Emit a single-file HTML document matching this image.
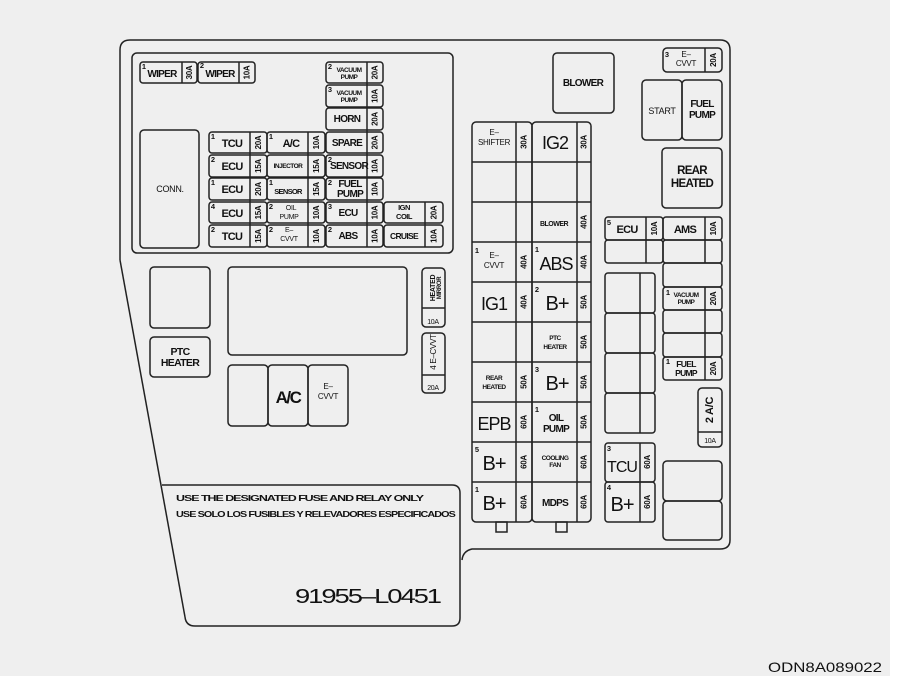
<!DOCTYPE html>
<html><head><meta charset="utf-8"><style>
html,body{margin:0;padding:0;background:#fff}
svg{display:block}
text{font-family:"Liberation Sans",sans-serif;fill:#111}
.b{font-weight:bold;font-size:10px;letter-spacing:-0.7px}
.s{font-weight:bold;font-size:6.5px;letter-spacing:-0.5px}
.r{font-size:8px;letter-spacing:-0.3px}
.n{font-weight:bold;font-size:7.5px}
.L{font-size:18px;letter-spacing:-1px}
</style></head><body>
<svg width="902" height="688" viewBox="0 0 902 688" xmlns="http://www.w3.org/2000/svg">
<rect x="0" y="0" width="890" height="676" fill="#efefef"/>
<g fill="none" stroke="#222" stroke-width="1.5">
<path d="M120,260 L120,50 Q120,40 130,40 L720,40 Q730,40 730,50 L730,540 Q730,549 720,549 L472,549 Q463,551 462,560"/>
<path d="M120,260 L185,617"/>
<path d="M162,485 L452,485 Q460,485 460,493 L460,618 Q460,626 452,626 L195,626 Q186,626 185,617"/>
<rect x="132" y="53" width="321" height="200" rx="5"/>
<rect x="140" y="130" width="59" height="118" rx="4"/>
<rect x="150" y="267" width="60" height="61" rx="4"/>
<rect x="150" y="337" width="60" height="40" rx="4"/>
<rect x="228" y="267" width="179" height="88" rx="4"/>
<rect x="228" y="365" width="40" height="61" rx="4"/>
<rect x="268" y="365" width="40" height="61" rx="4"/>
<rect x="308" y="365" width="40" height="61" rx="4"/>
<rect x="422" y="268" width="23" height="59" rx="4"/><line x1="422" y1="308" x2="445" y2="308"/>
<rect x="422" y="333" width="23" height="60" rx="4"/><line x1="422" y1="375" x2="445" y2="375"/>
<rect x="140" y="62" width="57" height="21" rx="3"/><line x1="182" y1="62" x2="182" y2="83"/>
<rect x="198" y="62" width="57" height="21" rx="3"/><line x1="239" y1="62" x2="239" y2="83"/>
<rect x="326" y="62" width="57" height="21" rx="3"/>
<rect x="326" y="85" width="57" height="22" rx="3"/>
<rect x="326" y="108" width="57" height="22" rx="3"/>
<rect x="326" y="132" width="57" height="21" rx="3"/>
<rect x="326" y="155" width="57" height="22" rx="3"/>
<rect x="326" y="178" width="57" height="22" rx="3"/>
<rect x="326" y="202" width="57" height="21" rx="3"/>
<rect x="326" y="225" width="57" height="22" rx="3"/>
<line x1="367" y1="62" x2="367" y2="247"/>
<rect x="209" y="132" width="58" height="21" rx="3"/>
<rect x="209" y="155" width="58" height="22" rx="3"/>
<rect x="209" y="178" width="58" height="22" rx="3"/>
<rect x="209" y="202" width="58" height="21" rx="3"/>
<rect x="209" y="225" width="58" height="22" rx="3"/>
<line x1="250" y1="132" x2="250" y2="247"/>
<rect x="267" y="132" width="58" height="21" rx="3"/>
<rect x="267" y="155" width="58" height="22" rx="3"/>
<rect x="267" y="178" width="58" height="22" rx="3"/>
<rect x="267" y="202" width="58" height="21" rx="3"/>
<rect x="267" y="225" width="58" height="22" rx="3"/>
<line x1="308" y1="132" x2="308" y2="247"/>
<rect x="384" y="202" width="59" height="21" rx="3"/>
<rect x="384" y="225" width="59" height="22" rx="3"/>
<line x1="425" y1="202" x2="425" y2="247"/>
<rect x="472" y="122" width="60" height="400" rx="4"/>
<rect x="532" y="122" width="59" height="400" rx="4"/>
<line x1="516" y1="122" x2="516" y2="522"/>
<line x1="577" y1="122" x2="577" y2="522"/>
<path d="M472,162H591M472,202H591M472,242H591M472,282H591M472,322H591M472,362H591M472,402H591M472,442H591M472,482H591"/>
<rect x="496" y="522" width="11" height="10"/>
<rect x="556" y="522" width="11" height="10"/>
<rect x="553" y="53" width="61" height="60" rx="4"/>
<rect x="663" y="48" width="59" height="24" rx="4"/><line x1="705" y1="48" x2="705" y2="72"/>
<rect x="642" y="80" width="40" height="60" rx="4"/>
<rect x="682" y="80" width="40" height="60" rx="4"/>
<rect x="662" y="148" width="60" height="60" rx="4"/>
<rect x="605" y="217" width="58" height="23" rx="3"/>
<rect x="605" y="240" width="58" height="23" rx="3"/>
<line x1="646" y1="217" x2="646" y2="263"/>
<rect x="663" y="217" width="59" height="23" rx="3"/>
<rect x="663" y="240" width="59" height="23" rx="3"/>
<rect x="663" y="263" width="59" height="24" rx="3"/>
<rect x="663" y="287" width="59" height="23" rx="3"/>
<rect x="663" y="310" width="59" height="23" rx="3"/>
<rect x="663" y="333" width="59" height="24" rx="3"/>
<rect x="663" y="357" width="59" height="23" rx="3"/>
<path d="M705,217V263M705,287V380"/>
<rect x="605" y="273" width="50" height="40" rx="3"/>
<rect x="605" y="313" width="50" height="40" rx="3"/>
<rect x="605" y="353" width="50" height="40" rx="3"/>
<rect x="605" y="393" width="50" height="40" rx="3"/>
<line x1="640" y1="273" x2="640" y2="433"/>
<rect x="698" y="388" width="24" height="59" rx="4"/><line x1="698" y1="432" x2="722" y2="432"/>
<rect x="605" y="443" width="50" height="39" rx="3"/>
<rect x="605" y="482" width="50" height="40" rx="3"/>
<line x1="640" y1="443" x2="640" y2="522"/>
<rect x="663" y="461" width="59" height="40" rx="4"/>
<rect x="663" y="501" width="59" height="39" rx="4"/>
</g>

<g text-anchor="middle">
<text class="b" x="162" y="77">WIPER</text><text class="n" x="144" y="69">1</text>
<text class="b" x="220" y="77">WIPER</text><text class="n" x="202" y="68">2</text>
<text class="r" x="170" y="192" style="font-size:9px">CONN.</text>

<text class="s" x="349" y="72">VACUUM</text><text class="s" x="349" y="79">PUMP</text><text class="n" x="330" y="69">2</text>
<text class="s" x="349" y="95">VACUUM</text><text class="s" x="349" y="102">PUMP</text><text class="n" x="330" y="92">3</text>
<text class="b" x="347" y="122">HORN</text>
<text class="b" x="347" y="146">SPARE</text>
<text class="b" x="349" y="169">SENSOR</text><text class="n" x="330" y="162">2</text>
<text class="b" x="350" y="187">FUEL</text><text class="b" x="350" y="197">PUMP</text><text class="n" x="330" y="185">2</text>
<text class="b" x="348" y="216">ECU</text><text class="n" x="330" y="209">3</text>
<text class="b" x="348" y="239">ABS</text><text class="n" x="330" y="232">2</text>

<text class="b" x="232" y="147" style="font-size:11px">TCU</text><text class="n" x="213" y="139">1</text>
<text class="b" x="232" y="170" style="font-size:11px">ECU</text><text class="n" x="213" y="162">2</text>
<text class="b" x="232" y="193" style="font-size:11px">ECU</text><text class="n" x="213" y="185">1</text>
<text class="b" x="232" y="217" style="font-size:11px">ECU</text><text class="n" x="213" y="209">4</text>
<text class="b" x="232" y="240" style="font-size:11px">TCU</text><text class="n" x="213" y="232">2</text>

<text class="b" x="291" y="147" style="font-size:11px">A/C</text><text class="n" x="271" y="139">1</text>
<text class="s" x="288" y="168">INJECTOR</text>
<text class="b" x="288" y="194" style="font-size:7.5px">SENSOR</text><text class="n" x="271" y="185">1</text>
<text class="r" x="291" y="210" style="font-size:7px">OIL</text><text class="r" x="289" y="219" style="font-size:7px">PUMP</text><text class="n" x="271" y="209">2</text>
<text class="r" x="289" y="232" style="font-size:7px">E–</text><text class="r" x="289" y="241" style="font-size:7px">CVVT</text><text class="n" x="271" y="232">2</text>

<text class="s" x="404" y="210" style="font-size:7.5px">IGN</text><text class="s" x="404" y="219" style="font-size:7.5px">COIL</text>
<text class="b" x="404" y="239" style="font-size:8.5px">CRUISE</text>

<text class="b" x="180" y="355" style="font-size:10.5px">PTC</text><text class="b" x="180" y="366" style="font-size:10.5px">HEATER</text>
<text x="288" y="403" style="font-size:17px;font-weight:bold;letter-spacing:-1.5px">A/C</text>
<text class="r" x="328" y="389">E–</text><text class="r" x="328" y="399">CVVT</text>
<text class="r" x="433" y="324" style="font-size:7px">10A</text>
<text class="r" x="433" y="390" style="font-size:7px">20A</text>

<text class="r" x="494" y="135">E–</text><text class="r" x="494" y="145">SHIFTER</text>
<text class="L" x="555" y="149">IG2</text>
<text class="s" x="554" y="226" style="font-size:7px">BLOWER</text>
<text class="r" x="494" y="258">E–</text><text class="r" x="494" y="268">CVVT</text><text class="n" x="477" y="253">1</text>
<text class="L" x="556" y="270">ABS</text><text class="n" x="537" y="252">1</text>
<text class="L" x="494" y="310">IG1</text>
<text class="L" x="557" y="310" style="font-size:20px">B+</text><text class="n" x="537" y="292">2</text>
<text class="s" x="555" y="340">PTC</text><text class="s" x="555" y="349">HEATER</text>
<text class="s" x="494" y="380">REAR</text><text class="s" x="494" y="389">HEATED</text>
<text class="L" x="557" y="390" style="font-size:20px">B+</text><text class="n" x="537" y="372">3</text>
<text class="L" x="494" y="430">EPB</text>
<text class="b" x="556" y="421">OIL</text><text class="b" x="556" y="432">PUMP</text><text class="n" x="537" y="412">1</text>
<text class="L" x="494" y="470" style="font-size:20px">B+</text><text class="n" x="477" y="452">5</text>
<text class="s" x="555" y="460">COOLING</text><text class="s" x="555" y="467">FAN</text>
<text class="L" x="494" y="510" style="font-size:20px">B+</text><text class="n" x="477" y="492">1</text>
<text class="b" x="555" y="506">MDPS</text>

<text class="b" x="583" y="86">BLOWER</text>
<text class="r" x="686" y="57">E–</text><text class="r" x="686" y="66">CVVT</text><text class="n" x="667" y="57">3</text>
<text class="r" x="662" y="114" style="font-size:9px">START</text>
<text class="b" x="702" y="107">FUEL</text><text class="b" x="702" y="118">PUMP</text>
<text class="b" x="692" y="174" style="font-size:11.5px">REAR</text><text class="b" x="692" y="187" style="font-size:11.5px">HEATED</text>
<text class="b" x="627" y="233" style="font-size:11px">ECU</text><text class="n" x="609" y="225">5</text>
<text class="b" x="685" y="233" style="font-size:11px">AMS</text>
<text class="s" x="686" y="297">VACUUM</text><text class="s" x="686" y="304">PUMP</text><text class="n" x="668" y="295">1</text>
<text class="b" x="686" y="367" style="font-size:8.5px">FUEL</text><text class="b" x="686" y="376" style="font-size:8.5px">PUMP</text><text class="n" x="668" y="364">1</text>
<text class="r" x="710" y="443" style="font-size:7px">10A</text>
<text style="font-size:16px;letter-spacing:-1px" x="622" y="472">TCU</text><text class="n" x="609" y="451">3</text>
<text class="L" x="622" y="511" style="font-size:20px">B+</text><text class="n" x="609" y="490">4</text>
</g>

<g class="r" text-anchor="middle" dominant-baseline="central" style="font-size:8px;font-weight:bold">
<text transform="translate(189.5,72.5) rotate(-90)">30A</text>
<text transform="translate(247,72.5) rotate(-90)">10A</text>
<text transform="translate(375,72.5) rotate(-90)">20A</text>
<text transform="translate(375,96) rotate(-90)">10A</text>
<text transform="translate(375,119) rotate(-90)">20A</text>
<text transform="translate(375,142.5) rotate(-90)">20A</text>
<text transform="translate(375,166) rotate(-90)">10A</text>
<text transform="translate(375,189) rotate(-90)">10A</text>
<text transform="translate(375,212.5) rotate(-90)">10A</text>
<text transform="translate(375,236) rotate(-90)">10A</text>
<text transform="translate(258.5,142.5) rotate(-90)">20A</text>
<text transform="translate(258.5,166) rotate(-90)">15A</text>
<text transform="translate(258.5,189) rotate(-90)">20A</text>
<text transform="translate(258.5,212.5) rotate(-90)">15A</text>
<text transform="translate(258.5,236) rotate(-90)">15A</text>
<text transform="translate(316.5,142.5) rotate(-90)">10A</text>
<text transform="translate(316.5,166) rotate(-90)">15A</text>
<text transform="translate(316.5,189) rotate(-90)">15A</text>
<text transform="translate(316.5,212.5) rotate(-90)">10A</text>
<text transform="translate(316.5,236) rotate(-90)">10A</text>
<text transform="translate(434,212.5) rotate(-90)">20A</text>
<text transform="translate(434,236) rotate(-90)">10A</text>
<text transform="translate(433.5,288) rotate(-90)" style="font-size:7px">HEATED</text>
<text transform="translate(440,288) rotate(-90)" style="font-size:6px">MIRROR</text>
<text transform="translate(433.5,352) rotate(-90)" style="font-weight:normal">4 E–CVVT</text>

<text transform="translate(524,142) rotate(-90)">30A</text>
<text transform="translate(584,142) rotate(-90)">30A</text>
<text transform="translate(584,222) rotate(-90)">40A</text>
<text transform="translate(524,262) rotate(-90)">40A</text>
<text transform="translate(584,262) rotate(-90)">40A</text>
<text transform="translate(524,302) rotate(-90)">40A</text>
<text transform="translate(584,302) rotate(-90)">50A</text>
<text transform="translate(584,342) rotate(-90)">50A</text>
<text transform="translate(524,382) rotate(-90)">50A</text>
<text transform="translate(584,382) rotate(-90)">50A</text>
<text transform="translate(524,422) rotate(-90)">60A</text>
<text transform="translate(584,422) rotate(-90)">50A</text>
<text transform="translate(524,462) rotate(-90)">60A</text>
<text transform="translate(584,462) rotate(-90)">60A</text>
<text transform="translate(524,502) rotate(-90)">60A</text>
<text transform="translate(584,502) rotate(-90)">60A</text>

<text transform="translate(713.5,60) rotate(-90)">20A</text>
<text transform="translate(654.5,228.5) rotate(-90)">10A</text>
<text transform="translate(713.5,228.5) rotate(-90)">10A</text>
<text transform="translate(713.5,298.5) rotate(-90)">20A</text>
<text transform="translate(713.5,368.5) rotate(-90)">20A</text>
<text transform="translate(710,410) rotate(-90)" style="font-size:11px">2 A/C</text>
<text transform="translate(647.5,462) rotate(-90)">60A</text>
<text transform="translate(647.5,502) rotate(-90)">60A</text>
</g>

<text x="176" y="501" style="font-weight:bold;font-size:8.5px;letter-spacing:-0.7px" textLength="247" lengthAdjust="spacingAndGlyphs">USE THE DESIGNATED FUSE AND RELAY ONLY</text>
<text x="176" y="517" style="font-weight:bold;font-size:8.5px;letter-spacing:-0.7px" textLength="279" lengthAdjust="spacingAndGlyphs">USE SOLO LOS FUSIBLES Y RELEVADORES ESPECIFICADOS</text>
<text x="295" y="603" style="font-size:20px;letter-spacing:-1.5px" textLength="145" lengthAdjust="spacingAndGlyphs">91955–L0451</text>
<text x="768" y="672" style="font-size:14px" textLength="114" lengthAdjust="spacingAndGlyphs">ODN8A089022</text>
</svg>
</body></html>
